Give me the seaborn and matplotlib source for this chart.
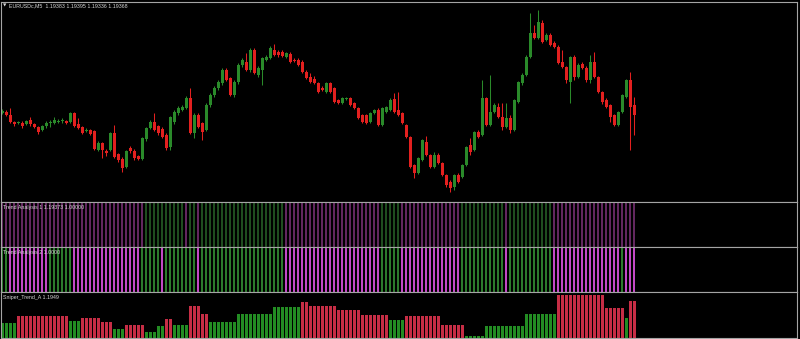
import numpy as np
import pandas as pd
import matplotlib
matplotlib.use("Agg")
import matplotlib.pyplot as plt
import seaborn as sns

# ---------------- data ----------------
title_text = "EURUSDc,M5  1.19383 1.19395 1.19336 1.19368"
ta1_label = "Trend Analysis 1 1.19373 1.00000"
ta2_label = "Trend Analysis 2 1.0000"
sniper_label = "Sniper_Trend_A 1.1949"

opens = [
    1.1937, 1.1938, 1.1935, 1.1928, 1.1927, 1.1927, 1.1926, 1.1930, 1.1926, 1.1923,
    1.1920, 1.1924, 1.1927, 1.1927, 1.1928, 1.1929, 1.1929, 1.1928, 1.1937, 1.1926,
    1.1923, 1.1919, 1.1920, 1.1919, 1.1900, 1.1907, 1.1899, 1.1900, 1.1917, 1.1896,
    1.1891, 1.1883, 1.1902, 1.1899, 1.1894, 1.1891, 1.1911, 1.1922, 1.1928, 1.1924,
    1.1921, 1.1915, 1.1903, 1.1928, 1.1937, 1.1940, 1.1942, 1.1952, 1.1917, 1.1935,
    1.1927, 1.1920, 1.1945, 1.1955, 1.1962, 1.1967, 1.1980, 1.1972, 1.1955, 1.1968,
    1.1985, 1.1988, 1.1980, 1.2000, 1.1975, 1.1980, 1.1990, 1.1992, 1.2000, 1.1998,
    1.1998, 1.1993, 1.1996, 1.1990, 1.1990, 1.1988, 1.1978, 1.1973, 1.1971, 1.1967,
    1.1962, 1.1958, 1.1967, 1.1962, 1.1950, 1.1947, 1.1951, 1.1952, 1.1947, 1.1942,
    1.1935, 1.1935, 1.1928, 1.1937, 1.1940, 1.1925, 1.1938, 1.1940, 1.1951, 1.1940,
    1.1937, 1.1925, 1.1913, 1.1885, 1.1877, 1.1890, 1.1908, 1.1895, 1.1883, 1.1895,
    1.1887, 1.1875, 1.1868, 1.1863, 1.1875, 1.1873, 1.1885, 1.1905, 1.1900, 1.1918,
    1.1915, 1.1952, 1.1925, 1.1938, 1.1943, 1.1933, 1.1923, 1.1932, 1.1920, 1.1948,
    1.1967, 1.1975, 1.1993, 1.2017, 1.2012, 1.2027, 1.2010, 1.2015, 1.2007, 1.2003,
    1.1988, 1.1983, 1.1968, 1.1993, 1.1973, 1.1986, 1.1982, 1.1970, 1.1988, 1.1973,
    1.1958, 1.1950, 1.1945, 1.1935, 1.1925, 1.1938, 1.1953, 1.1970, 1.1945,
]
closes = [
    1.1939, 1.1935, 1.1928, 1.1926, 1.1928, 1.1924, 1.1929, 1.1926, 1.1923, 1.1918,
    1.1924, 1.1927, 1.1928, 1.1930, 1.1929, 1.1930, 1.1927, 1.1937, 1.1924, 1.1922,
    1.1917, 1.1920, 1.1916, 1.1901, 1.1907, 1.1900, 1.1897, 1.1917, 1.1893, 1.1890,
    1.1882, 1.1899, 1.1899, 1.1892, 1.1891, 1.1912, 1.1922, 1.1928, 1.1920, 1.1917,
    1.1913, 1.1902, 1.1933, 1.1938, 1.1942, 1.1943, 1.1952, 1.1917, 1.1935, 1.1923,
    1.1918, 1.1945, 1.1955, 1.1962, 1.1968, 1.1980, 1.1970, 1.1955, 1.1968, 1.1985,
    1.1990, 1.1980, 1.2000, 1.1977, 1.1982, 1.1992, 1.1993, 1.2002, 1.1995, 1.1995,
    1.1994, 1.1997, 1.1988, 1.1989, 1.1985, 1.1978, 1.1972, 1.1968, 1.1967, 1.1958,
    1.1960, 1.1967, 1.1958, 1.1948, 1.1947, 1.1952, 1.1952, 1.1945, 1.1942, 1.1932,
    1.1928, 1.1927, 1.1937, 1.1940, 1.1925, 1.1942, 1.1943, 1.1950, 1.1938, 1.1935,
    1.1927, 1.1913, 1.1883, 1.1877, 1.1892, 1.1910, 1.1895, 1.1883, 1.1895, 1.1887,
    1.1875, 1.1865, 1.1862, 1.1875, 1.1868, 1.1885, 1.1903, 1.1898, 1.1918, 1.1913,
    1.1952, 1.1925, 1.1938, 1.1945, 1.1933, 1.1923, 1.1932, 1.1920, 1.1950, 1.1968,
    1.1975, 1.1993, 1.2017, 1.2012, 1.2028, 1.2008, 1.2015, 1.2005, 1.2003, 1.1987,
    1.1983, 1.1970, 1.1993, 1.1973, 1.1985, 1.1982, 1.1970, 1.1988, 1.1973, 1.1958,
    1.1948, 1.1943, 1.1933, 1.1925, 1.1938, 1.1955, 1.1970, 1.1943, 1.1935,
]
highs = [
    1.1941, 1.1940, 1.1942, 1.1929, 1.1929, 1.1929, 1.1930, 1.1933, 1.1927, 1.1924,
    1.1925, 1.1929, 1.1930, 1.1933, 1.1931, 1.1932, 1.1930, 1.1938, 1.1938, 1.1932,
    1.1924, 1.1922, 1.1921, 1.1920, 1.1909, 1.1908, 1.1901, 1.1918, 1.1925, 1.1897,
    1.1893, 1.1900, 1.1904, 1.1901, 1.1895, 1.1913, 1.1923, 1.1930, 1.1937, 1.1925,
    1.1923, 1.1917, 1.1934, 1.1940, 1.1944, 1.1945, 1.1954, 1.1962, 1.1937, 1.1937,
    1.1928, 1.1947, 1.1957, 1.1964, 1.1970, 1.1982, 1.1982, 1.1973, 1.1970, 1.1987,
    1.1992, 1.1997, 1.2002, 1.2002, 1.1984, 1.1993, 1.1995, 1.2004, 1.2006, 1.2000,
    1.2000, 1.1998, 1.1998, 1.1992, 1.1992, 1.1990, 1.1980, 1.1977, 1.1974, 1.1968,
    1.1964, 1.1968, 1.1968, 1.1963, 1.1951, 1.1953, 1.1953, 1.1953, 1.1948, 1.1943,
    1.1936, 1.1936, 1.1938, 1.1941, 1.1942, 1.1943, 1.1944, 1.1952, 1.1957, 1.1958,
    1.1938, 1.1926, 1.1914, 1.1886, 1.1893, 1.1911, 1.1914, 1.1896, 1.1898, 1.1897,
    1.1888, 1.1876, 1.1870, 1.1876, 1.1877, 1.1886, 1.1904, 1.1912, 1.1919, 1.1920,
    1.1970, 1.1953, 1.1975, 1.1947, 1.1947, 1.1947, 1.1947, 1.1935, 1.1951, 1.1969,
    1.1977, 1.1995, 1.2037, 1.2025, 1.2040, 1.2030, 1.2017, 1.2017, 1.2009, 1.2005,
    1.2000, 1.1984, 1.1994, 1.1995, 1.1987, 1.1988, 1.1984, 1.1995, 1.1998, 1.1974,
    1.1959, 1.1952, 1.1946, 1.1936, 1.1939, 1.1956, 1.1971, 1.1978, 1.1953,
]
lows = [
    1.1936, 1.1934, 1.1927, 1.1924, 1.1926, 1.1922, 1.1925, 1.1924, 1.1922, 1.1916,
    1.1919, 1.1922, 1.1923, 1.1926, 1.1927, 1.1927, 1.1926, 1.1927, 1.1923, 1.1921,
    1.1916, 1.1918, 1.1915, 1.1900, 1.1899, 1.1892, 1.1894, 1.1899, 1.1892, 1.1888,
    1.1878, 1.1882, 1.1897, 1.1890, 1.1890, 1.1890, 1.1909, 1.1921, 1.1919, 1.1915,
    1.1912, 1.1900, 1.1900, 1.1926, 1.1935, 1.1939, 1.1941, 1.1916, 1.1912, 1.1922,
    1.1910, 1.1919, 1.1943, 1.1953, 1.1960, 1.1965, 1.1969, 1.1954, 1.1953, 1.1966,
    1.1983, 1.1979, 1.1978, 1.1976, 1.1973, 1.1965, 1.1989, 1.1991, 1.1994, 1.1993,
    1.1993, 1.1992, 1.1987, 1.1988, 1.1984, 1.1977, 1.1971, 1.1967, 1.1966, 1.1957,
    1.1959, 1.1957, 1.1957, 1.1947, 1.1946, 1.1946, 1.1950, 1.1944, 1.1941, 1.1931,
    1.1927, 1.1926, 1.1927, 1.1936, 1.1924, 1.1924, 1.1937, 1.1939, 1.1937, 1.1934,
    1.1926, 1.1912, 1.1882, 1.1872, 1.1876, 1.1889, 1.1894, 1.1882, 1.1882, 1.1886,
    1.1874, 1.1863, 1.1858, 1.1860, 1.1867, 1.1872, 1.1884, 1.1895, 1.1899, 1.1912,
    1.1914, 1.1924, 1.1924, 1.1937, 1.1932, 1.1920, 1.1922, 1.1917, 1.1919, 1.1947,
    1.1965, 1.1974, 1.1992, 1.2011, 1.2011, 1.2007, 1.2009, 1.2004, 1.2002, 1.1986,
    1.1982, 1.1967, 1.1947, 1.1970, 1.1972, 1.1981, 1.1968, 1.1967, 1.1972, 1.1957,
    1.1946, 1.1942, 1.1928, 1.1924, 1.1924, 1.1937, 1.1952, 1.1900, 1.1915,
]

# Trend Analysis 1 / 2 state per bar (M = magenta/down, G = green/up)
ta1_state = "".join([
    "MMMMMMMMMM", "MMMMMMMMMM", "MMMMMMMMMM", "MMMMMMGGGG", "GGGGGGMGGM",
    "GGGGGGGGGG", "GGGGGGGGGG", "GMMMMMMMMM", "MMMMMMMMMM", "MMMMMGGGGG",
    "MMMMMMMMMM", "MMMMMGGGGG", "GGGGGGMGGG", "GGGGGGGGMM", "MMMMMMMMMM",
    "MMMMMMMMM",
])
ta2_state = "".join([
    "GGMMMMMMMM", "MMGGGGGGMM", "MMMMMMMMMM", "MMMMMGGGGG", "MGGGGGGGGM",
    "GGGGGGGGGG", "GGGGGGGGGG", "GMMMMMMMMM", "MMMMMMMMMM", "MMMMMGGGGG",
    "MMMMMMMMMM", "MMMMMGGGGG", "GGGGGGMGGG", "GGGGGGGGMM", "MMMMMMMMMM",
    "MMMMMGMMM",
])

# Sniper_Trend_A histogram values and colour state (G = up, R = down)
sniper_values = [
    15, 15, 15, 15, 22, 22, 22, 22, 22, 22,
    22, 22, 22, 22, 22, 22, 22, 17, 17, 17,
    20, 20, 20, 20, 20, 16, 16, 16, 9, 9,
    9, 13, 13, 13, 13, 13, 6, 6, 6, 12,
    12, 19, 19, 13, 13, 13, 13, 32, 32, 32,
    24, 24, 16, 16, 16, 16, 16, 16, 16, 24,
    24, 24, 24, 24, 24, 24, 24, 24, 31, 31,
    31, 31, 31, 31, 31, 36, 36, 32, 32, 32,
    32, 32, 32, 32, 28, 28, 28, 28, 28, 28,
    23, 23, 23, 23, 23, 23, 23, 18, 18, 18,
    18, 22, 22, 22, 22, 22, 22, 22, 22, 22,
    13, 13, 13, 13, 13, 13, 2, 2, 2, 2,
    2, 12, 12, 12, 12, 12, 12, 12, 12, 12,
    12, 24, 24, 24, 24, 24, 24, 24, 24, 43,
    43, 43, 43, 43, 43, 43, 43, 43, 43, 43,
    43, 30, 30, 30, 30, 30, 20, 37, 37,
]
sniper_state = "".join([
    "GGGGRRRRRR", "RRRRRRRGGG", "RRRRRRRRGG", "GRRRRRGGGG", "GRRGGGGRRR",
    "RRGGGGGGGG", "GGGGGGGGGG", "GGGGGRRRRR", "RRRRRRRRRR", "RRRRRRRGGG",
    "GRRRRRRRRR", "RRRRRRGGGG", "GGGGGGGGGG", "GGGGGGGGGR", "RRRRRRRRRR",
    "RRRRRRGRR",
])

# ---------------- style ----------------
W, H = 800, 339
BG = "black"
FRAME = "#a4a4a4"
TXT = "#d8d8d8"
CANDLE_UP = "#2a8a2a"
CANDLE_DN = "#e3201f"
TA1_COL = {"M": "#62275f", "G": "#1f4d1f"}
TA2_COL = {"M": "#c248c6", "G": "#2c7a2c"}
SNI_COL = {"G": "#238c23", "R": "#c62d45"}

sns.set_style("dark", {"axes.facecolor": BG, "figure.facecolor": BG,
                       "axes.edgecolor": FRAME, "grid.color": BG})
plt.rcParams["font.family"] = ["Liberation Sans", "DejaVu Sans"]

fig = plt.figure(figsize=(W / 100, H / 100), dpi=100, facecolor=BG)


def px_axes(top, bottom, left=1, right=797):
    return fig.add_axes([left / W, 1 - bottom / H, (right - left) / W, (bottom - top) / H])


ax_main = px_axes(2, 202)
ax_ta1 = px_axes(202, 247)
ax_ta2 = px_axes(247, 292)
ax_sn = px_axes(292, 338)

n = len(opens)
xs = np.arange(n)
xlim = (-0.25, 198.75)

# ---- candles ----
o = np.array(opens); c = np.array(closes); h = np.array(highs); l = np.array(lows)
cols = np.where(c >= o, CANDLE_UP, CANDLE_DN)
ax_main.vlines(xs, l, h, colors=cols, linewidth=0.75)
ax_main.bar(xs, np.maximum(np.abs(c - o), 0.00006), bottom=np.minimum(o, c),
            width=0.75, color=cols, linewidth=0)
ax_main.set_ylim(1.1848, 1.2048)

# ---- trend analysis panels ----
for ax, states, pal, wd in [(ax_ta1, ta1_state, TA1_COL, 0.3),
                             (ax_ta2, ta2_state, TA2_COL, 0.66)]:
    df = pd.DataFrame({"bar": xs, "value": np.ones(n), "state": list(states)})
    sns.barplot(data=df, x="bar", y="value", hue="state", palette=pal,
                native_scale=True, width=wd, dodge=False, saturation=1,
                errorbar=None, linewidth=0, legend=False, ax=ax)
    ax.set_ylim(0, 1)

# ---- sniper histogram ----
df_s = pd.DataFrame({"bar": xs, "value": sniper_values, "state": list(sniper_state)})
sns.barplot(data=df_s, x="bar", y="value", hue="state", palette=SNI_COL,
            native_scale=True, width=0.75, dodge=False, saturation=1,
            errorbar=None, linewidth=0, legend=False, ax=ax_sn)
ax_sn.set_ylim(0, 46)

for ax in (ax_main, ax_ta1, ax_ta2, ax_sn):
    ax.set_xlim(*xlim)
    ax.set_xticks([]); ax.set_yticks([])
    ax.set_xlabel(""); ax.set_ylabel("")
    ax.grid(False)
    ax.set_facecolor(BG)
    for s in ax.spines.values():
        s.set_visible(True)
        s.set_color(FRAME)
        s.set_linewidth(0.8)

# ---- texts ----
def ptext(x, y, s, size=3.8, **kw):
    fig.text(x / W, 1 - y / H, s, color=TXT, fontsize=size, va="center", ha="left", **kw)

ptext(2.5, 5.5, "\u25bc", size=3.2, family=["DejaVu Sans"])
ptext(9, 5.5, title_text)
ptext(3, 208, ta1_label)
ptext(3, 252.5, ta2_label)
ptext(3, 297.5, sniper_label)

fig.savefig("out.png", dpi=100, facecolor=BG)
